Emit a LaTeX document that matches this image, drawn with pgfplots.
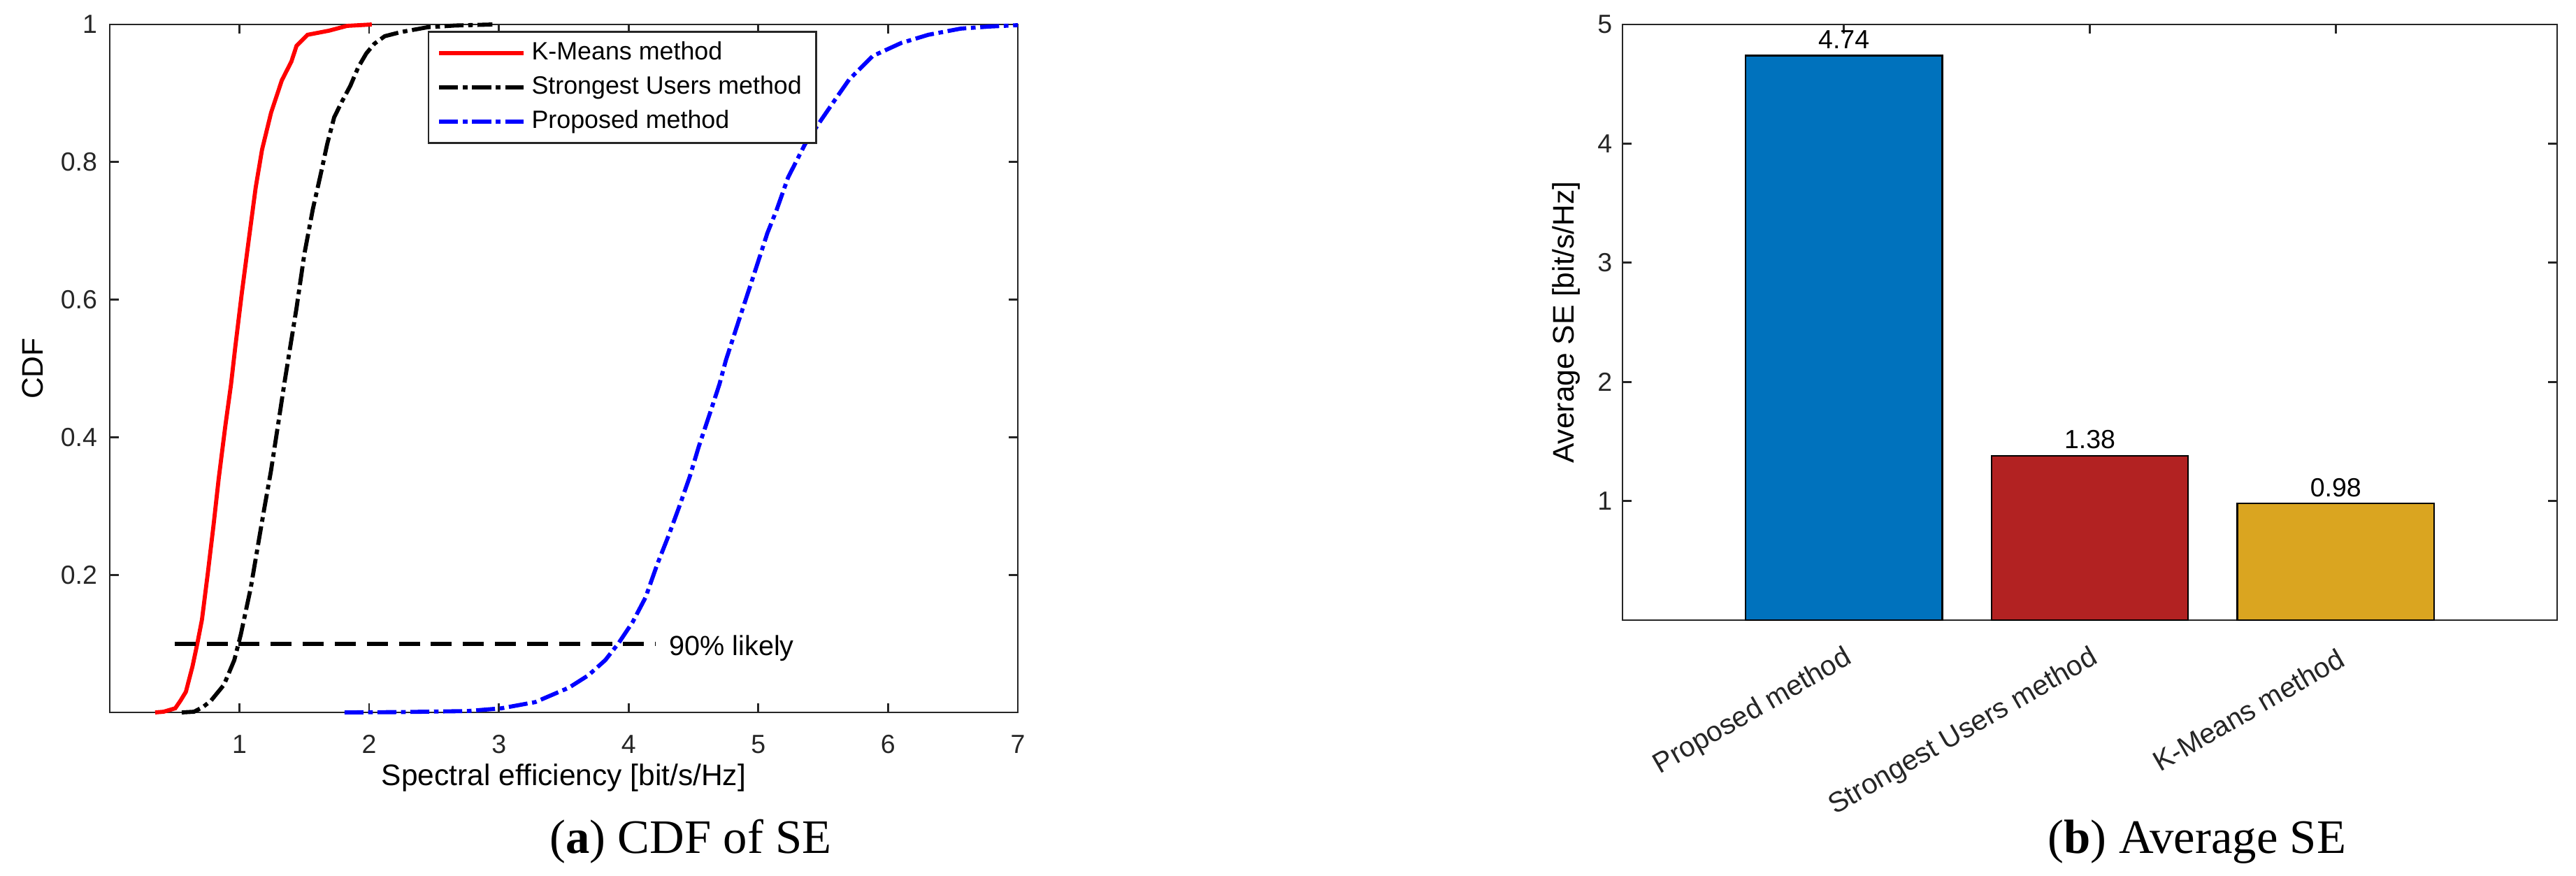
\documentclass[border=0pt]{standalone}
\usepackage{fontspec}
\setmainfont{Liberation Sans}
\newfontfamily\capfont{Liberation Serif}
\usepackage{pgfplots}
\pgfplotsset{compat=1.18}
\definecolor{axgray}{HTML}{262626}
\definecolor{mblue}{HTML}{0072BD}
\definecolor{mred}{HTML}{B22222}
\definecolor{mgold}{HTML}{DAA520}
\newcommand{\tfont}{\fontsize{9}{10.8}\selectfont}
\newcommand{\lfont}{\fontsize{10.2}{12}\selectfont}

\pgfplotsset{
  mstyle/.style={
    scale only axis, anchor=south west,
    axis line style={draw=axgray,line width=0.65pt},
    major tick style={draw=axgray,line width=0.65pt},
    tick align=inside, major tick length=3.1pt,
    tick label style={font=\tfont,text=axgray},
    /pgf/number format/assume math mode=true,
    label style={font=\lfont,text=axgray},
  },
  dashdot/.style={dash pattern=on 6.5pt off 1.6pt on 1.6pt off 1.6pt},
}

\begin{document}
\begin{tikzpicture}
\path[use as bounding box] (0,0) rectangle (884.4pt,-300.48pt);

% (a) CDF of SE
\begin{axis}[mstyle,
  at={(37.68pt,-244.56pt)}, width=311.76pt, height=236.16pt,
  xmin=0, xmax=7, ymin=0, ymax=1,
  xtick={1,2,3,4,5,6,7}, ytick={0.2,0.4,0.6,0.8,1},
  xticklabel style={yshift=-4.2pt}, yticklabel style={xshift=-0.8pt},
  xlabel={Spectral efficiency [bit/s/Hz]}, ylabel={CDF},
  every axis x label/.style={at={(axis description cs:0.5,0)},anchor=base,yshift=-25pt,font=\lfont},
  every axis y label/.style={at={(axis description cs:0,0.5)},rotate=90,anchor=base,yshift=23pt,font=\lfont},
  clip=false,
  legend style={at={(0.35,0.991)}, anchor=north west, draw=axgray, line width=0.65pt, fill=white,
    font=\fontsize{8.6}{10}\selectfont, inner xsep=3pt, inner ysep=1.5pt,
    nodes={inner sep=2pt,text depth=0.15em}, cells={anchor=west}},
  legend image code/.code={\draw[#1] (0pt,0pt) -- (29pt,0pt);},
]
\addplot[red, line width=1.4pt] coordinates {
 (0.35,0) (0.415,0.001) (0.505,0.006) (0.545,0.017) (0.587,0.03) (0.638,0.067) (0.675,0.1)
 (0.711,0.135) (0.757,0.204) (0.80,0.272) (0.84,0.34) (0.89,0.415) (0.935,0.477)
 (0.967,0.53) (1.017,0.608) (1.071,0.686) (1.125,0.763) (1.174,0.818) (1.244,0.872)
 (1.327,0.919) (1.40,0.946) (1.44,0.969) (1.525,0.985) (1.69,0.991) (1.83,0.998) (2.02,1.0)
};
\addlegendentry{K-Means method}
\addplot[black, line width=1.4pt, dashdot] coordinates {
 (0.555,0) (0.65,0.001) (0.72,0.008) (0.78,0.017) (0.88,0.04) (0.96,0.076) (1.01,0.113)
 (1.087,0.181) (1.14,0.24) (1.19,0.295) (1.242,0.35) (1.295,0.415) (1.345,0.477)
 (1.38,0.518) (1.44,0.588) (1.50,0.666) (1.566,0.732) (1.627,0.783) (1.676,0.826)
 (1.73,0.865) (1.79,0.888) (1.855,0.911) (1.916,0.938) (1.978,0.958) (2.04,0.972)
 (2.12,0.983) (2.245,0.989) (2.45,0.996) (2.66,0.9985) (2.95,1.0)
};
\addlegendentry{Strongest Users method}
\addplot[blue, line width=1.4pt, dashdot] coordinates {
 (1.81,0) (2.25,0.0005) (2.76,0.002) (3.02,0.006) (3.28,0.015) (3.54,0.036) (3.69,0.054)
 (3.82,0.076) (3.92,0.10) (4.03,0.131) (4.13,0.167) (4.22,0.215) (4.31,0.258) (4.39,0.299)
 (4.47,0.342) (4.54,0.386) (4.62,0.431) (4.70,0.477) (4.75,0.512) (4.85,0.57) (4.96,0.633)
 (5.07,0.697) (5.14,0.73) (5.23,0.778) (5.36,0.826) (5.48,0.86) (5.60,0.893) (5.70,0.92)
 (5.88,0.954) (6.10,0.973) (6.31,0.985) (6.56,0.994) (6.78,0.997) (7.0,0.999)
};
\addlegendentry{Proposed method}
\addplot[black, line width=1.45pt, dash pattern=on 7.2pt off 3.8pt, forget plot]
  coordinates {(0.5,0.1) (4.21,0.1)};
\node[anchor=base west, inner sep=0pt, font=\fontsize{9.5}{11}\selectfont]
  at (axis cs:4.31,0.0833) {90\% likely};
\end{axis}

% (b) Average SE
\begin{axis}[mstyle,
  at={(557.04pt,-212.88pt)}, width=320.88pt, height=204.48pt,
  xmin=0.1, xmax=3.9, ymin=0, ymax=5,
  xtick={1,2,3}, ytick={1,2,3,4,5},
  xticklabels={Proposed method,Strongest Users method,K-Means method},
  xticklabel style={xshift=5pt,yshift=-10.6pt,rotate=30,anchor=east,font=\fontsize{9.7}{11}\selectfont},
  ylabel={Average SE [bit/s/Hz]},
  every axis y label/.style={at={(axis description cs:0,0.5)},rotate=90,anchor=base,yshift=16.8pt,font=\lfont},
  bar width=0.8,
  nodes near coords={\pgfmathprintnumber[fixed,fixed zerofill,precision=2]{\pgfplotspointmeta}},
  every node near coord/.append style={font=\tfont,text=black,inner sep=2pt,anchor=south},
]
\addplot[ybar, bar shift=0pt, fill=mblue, draw=black, line width=0.6pt] coordinates {(1,4.74)};
\addplot[ybar, bar shift=0pt, fill=mred, draw=black, line width=0.6pt] coordinates {(2,1.38)};
\addplot[ybar, bar shift=0pt, fill=mgold, draw=black, line width=0.6pt] coordinates {(3,0.98)};
\end{axis}

\node[anchor=base, inner sep=0pt, font=\capfont\fontsize{16.5}{19}\selectfont]
  at (237.12pt,-292.8pt) {(\textbf{a}) CDF of SE};
\node[anchor=base, inner sep=0pt, font=\capfont\fontsize{16.5}{19}\selectfont]
  at (754.32pt,-292.8pt) {(\textbf{b}) Average SE};
\end{tikzpicture}
\end{document}
